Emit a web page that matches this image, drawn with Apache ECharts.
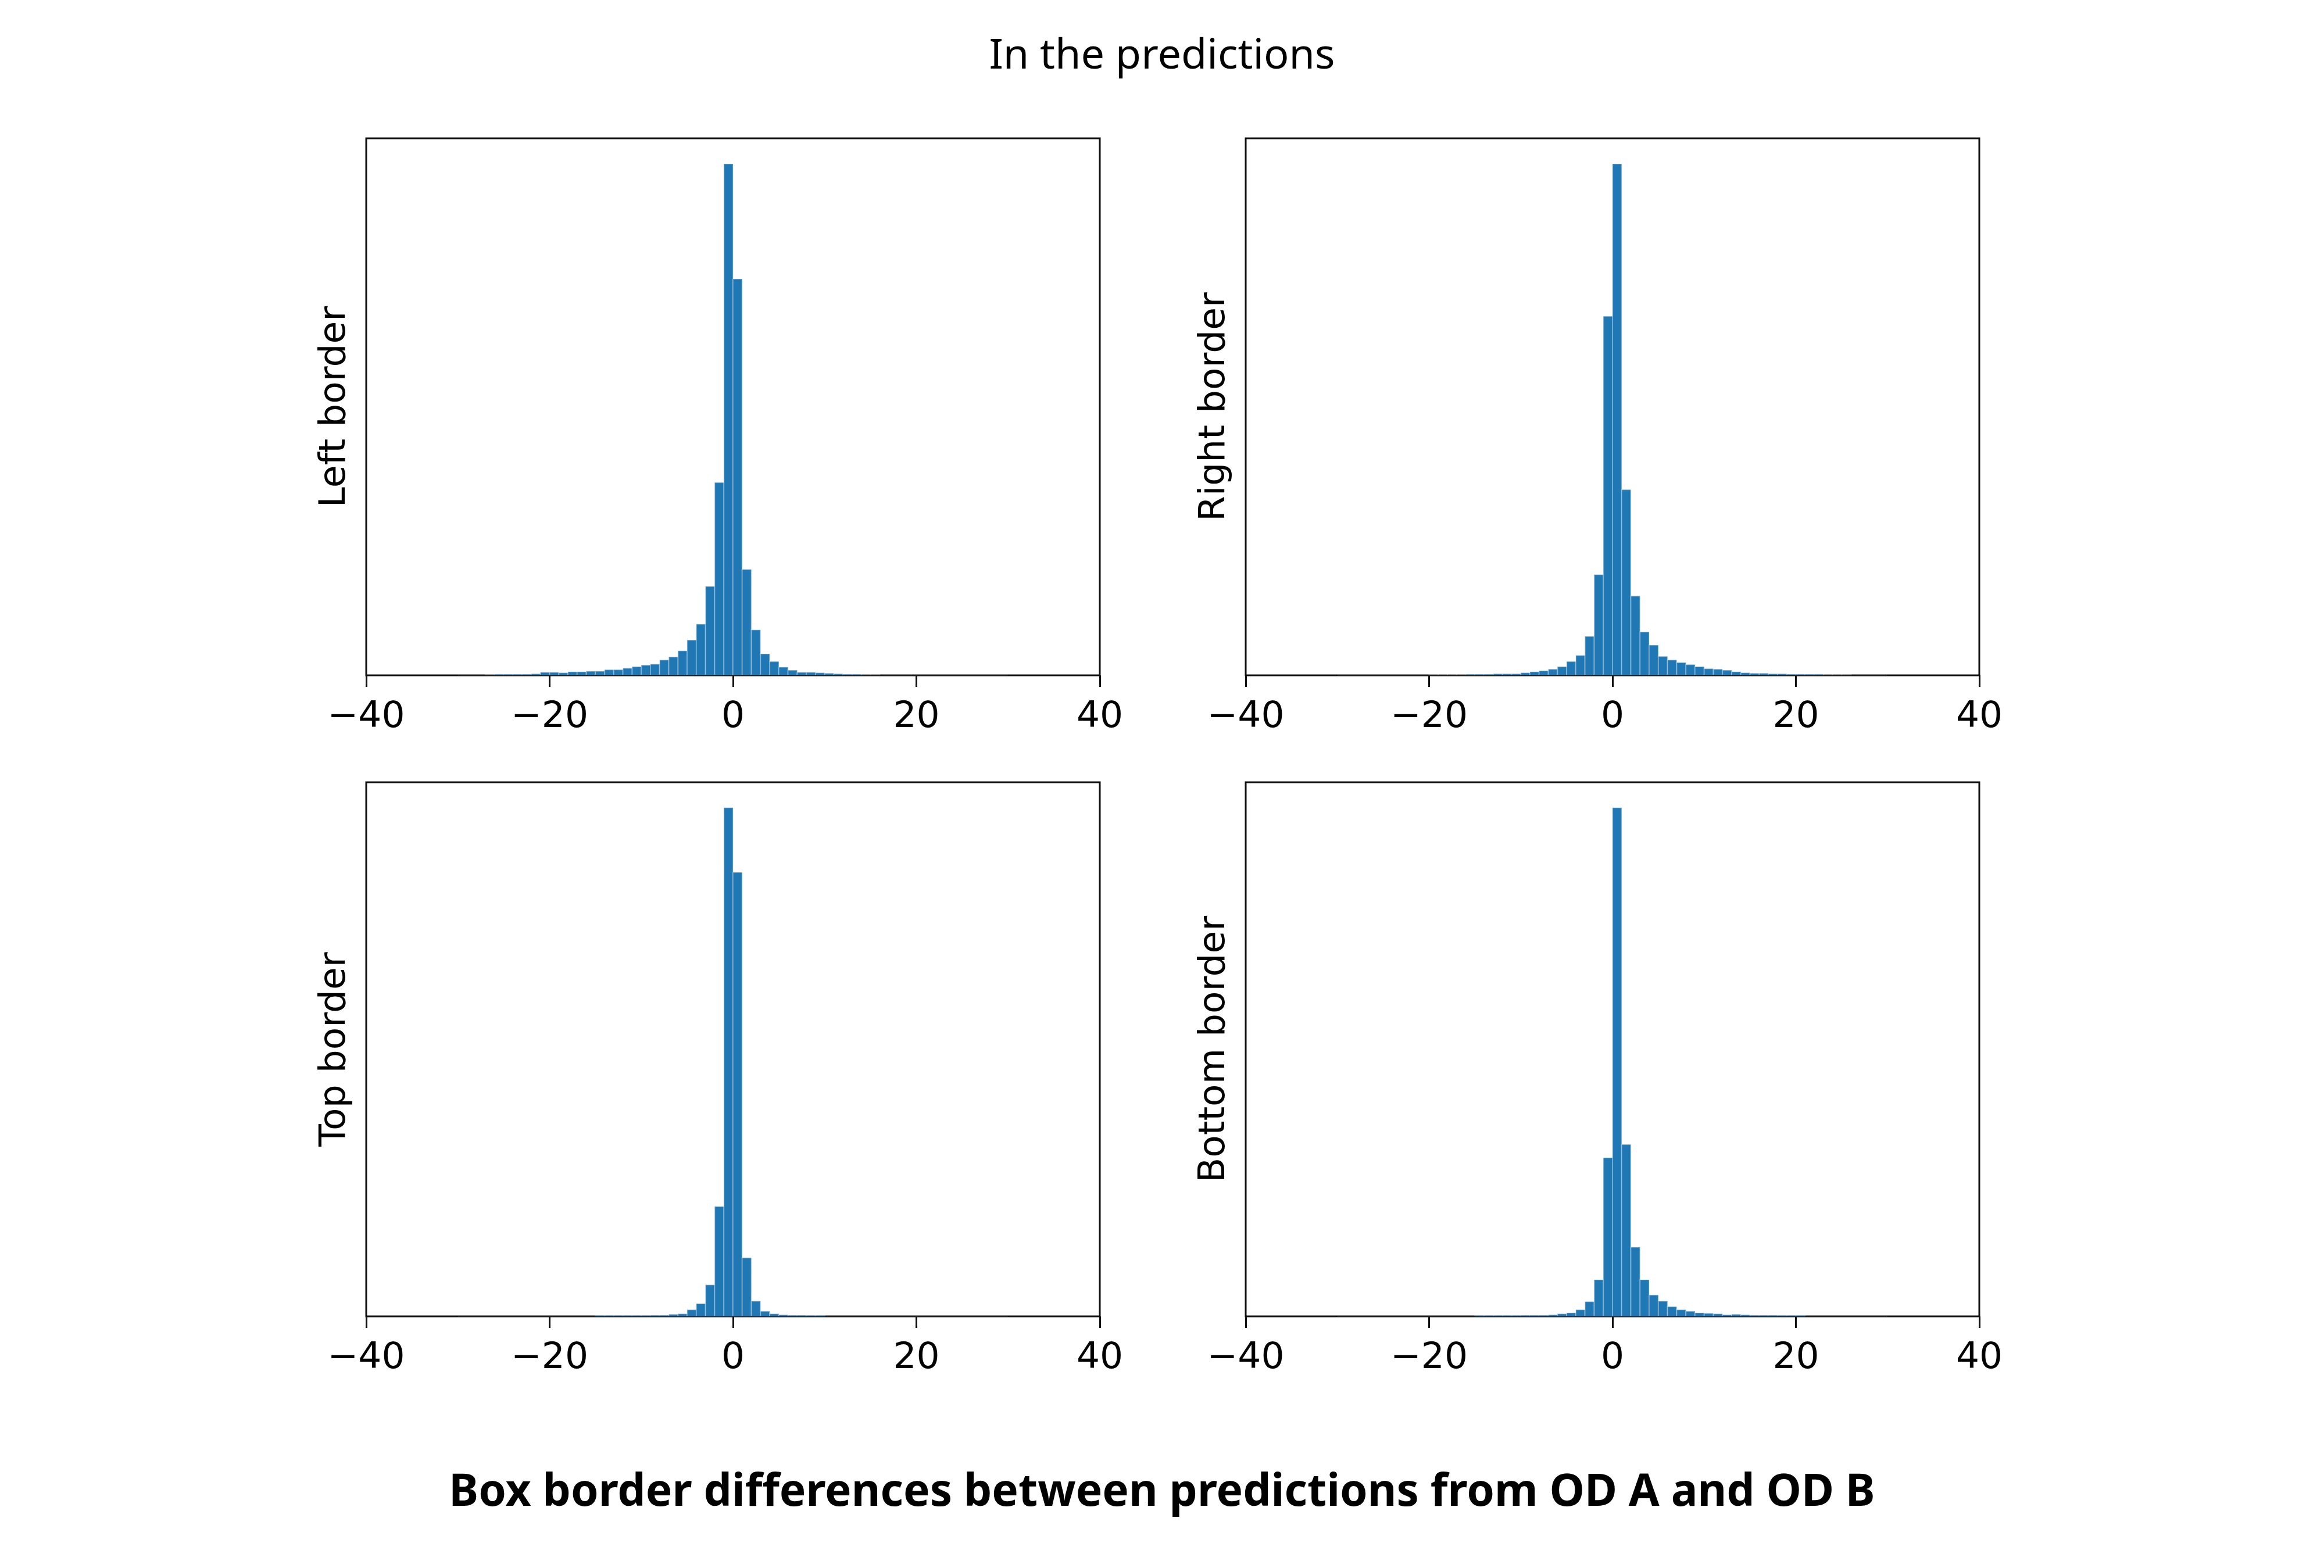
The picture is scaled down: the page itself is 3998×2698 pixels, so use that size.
<!DOCTYPE html>
<html>
<head>
<meta charset="utf-8">
<script src="https://cdn.jsdelivr.net/npm/echarts@6/dist/echarts.min.js"></script>
<style>
html,body{margin:0;padding:0;background:#fff;}
#chart{width:3998px;height:2698px;}
</style>
</head>
<body>
<div id="chart"></div>
<script>
// Bin left edges (bin width = 1)
const binLeft = [-30,-29,-28,-27,-26,-25,-24,-23,-22,-21,-20,-19,-18,-17,-16,-15,-14,-13,-12,-11,
  -10,-9,-8,-7,-6,-5,-4,-3,-2,-1,0,1,2,3,4,5,6,7,8,9,
  10,11,12,13,14,15,16,17,18,19,20,21,22,23,24,25,26,27,28,29];
const binWidth = 1;

// Relative counts (peak = 1000)
const leftBorder = [0,0,0,1,2,2,2,2,3,6,6,5,7,7,8,8,11,11,14,17,
  20,22,30,36,48,69,100,174,377,1000,775,207,89,42,27,16,10,6,6,5,
  4,3,2,2,1,1,0,0,0,0,0,0,0,0,0,0,0,0,0,0];
const rightBorder = [0,0,0,0,0,0,0,0,0,0,1,1,1,1,2,2,2,3,3,3,
  5,7,9,12,17,27,39,76,197,702,1000,363,155,85,59,37,30,25,21,17,
  13,12,10,7,5,4,4,3,3,2,2,2,2,1,1,1,0,0,0,0];
const topBorder = [0,0,0,0,0,0,0,0,0,0,0,0,0,0,0,1,1,1,1,1,
  1,2,2,4,5,13,25,62,216,1000,873,115,30,10,5,3,2,2,1,1,
  0,0,0,0,0,0,0,0,0,0,0,0,0,0,0,0,0,0,0,0];
const bottomBorder = [0,0,0,0,0,0,0,0,0,0,0,0,0,0,0,1,1,1,1,1,
  2,2,2,3,5,7,13,29,72,312,1000,338,136,72,42,30,19,13,10,7,
  6,5,3,4,3,2,2,2,1,1,1,0,0,0,0,0,0,0,0,0];

const panelNames = ['Left border', 'Right border', 'Top border', 'Bottom border'];
const panelData = [leftBorder, rightBorder, topBorder, bottomBorder];
const xTicks = [-40, -20, 0, 20, 40];

const mainTitle = 'In the predictions';
const bottomTitle = 'Box border differences between predictions from OD A and OD B';

const grids = [
  {left: 630, top: 238, width: 1262, height: 924},
  {left: 2143, top: 238, width: 1262, height: 924},
  {left: 630, top: 1346, width: 1262, height: 919},
  {left: 2143, top: 1346, width: 1262, height: 919}
];

const chart = echarts.init(document.getElementById('chart'), null, {renderer: 'canvas'});

const fmt = v => (v < 0 ? '\u2212' + Math.abs(v) : String(v));

const option = {
  backgroundColor: '#ffffff',
  animation: false,
  title: [
    {text: mainTitle, left: 'center', top: 56,
     textStyle: {fontFamily: 'Noto Sans', fontSize: 72, fontWeight: 'normal', color: '#000'}},
    {text: bottomTitle, left: 'center', top: 2526,
     textStyle: {fontFamily: 'Noto Sans', fontSize: 76.5, fontWeight: 'bold', color: '#000'}}
  ],
  grid: grids.map(g => Object.assign({show: true, borderColor: '#111', borderWidth: 3, backgroundColor: 'transparent'}, g)),
  xAxis: grids.map((g, i) => ({
    type: 'value', gridIndex: i, min: xTicks[0], max: xTicks[xTicks.length - 1], interval: 20,
    axisLine: {show: false},
    axisTick: {show: true, length: 20, lineStyle: {color: '#111', width: 3}},
    splitLine: {show: false},
    axisLabel: {fontFamily: 'DejaVu Sans', fontSize: 63, color: '#000', margin: 41, formatter: fmt}
  })),
  yAxis: grids.map((g, i) => ({
    type: 'value', gridIndex: i, min: 0, max: 1050,
    name: panelNames[i], nameLocation: 'middle', nameRotate: 90, nameGap: 22,
    nameTextStyle: {fontFamily: 'DejaVu Sans', fontSize: 63, color: '#000'},
    axisLine: {show: false}, axisTick: {show: false}, axisLabel: {show: false}, splitLine: {show: false}
  })),
  series: panelData.map((vals, i) => ({
    type: 'custom', xAxisIndex: i, yAxisIndex: i, clip: true,
    data: binLeft.map((b, j) => [b, b + binWidth, vals[j]]),
    renderItem: function (params, api) {
      const p0 = api.coord([api.value(0), 0]);
      const p1 = api.coord([api.value(1), api.value(2)]);
      return {
        type: 'rect',
        shape: {x: p0[0], y: p1[1], width: p1[0] - p0[0], height: p0[1] - p1[1]},
        style: {fill: '#1f77b4', stroke: 'rgba(255,255,255,0.28)', lineWidth: 2}
      };
    }
  }))
};
chart.setOption(option);
</script>
</body>
</html>
